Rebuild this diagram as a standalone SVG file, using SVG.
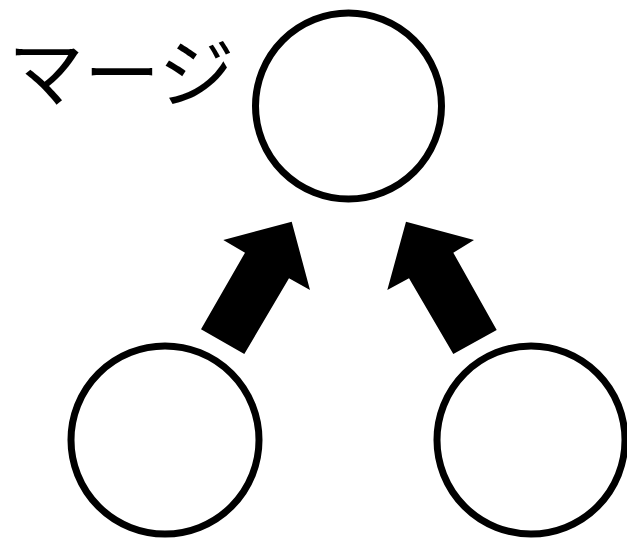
<svg xmlns="http://www.w3.org/2000/svg" width="627" height="538" viewBox="0 0 627 538">
  <style>
    .node { fill: #ffffff; stroke: #000000; stroke-width: 7; }
    .arrow { fill: #000000; stroke: none; }
    .label { font-family: "Noto Sans CJK JP", "Noto Sans", sans-serif; font-size: 76px; fill: #000000; }
  </style>
  <rect width="627" height="538" fill="#ffffff"/>
  <g id="connectors">
    <polygon class="arrow" points="291.7,221.7 310,290 289,278.3 244.3,354 201,329.3 245,252.7 223.3,240"/>
    <polygon class="arrow" points="406,221.7 474,240 453.3,252.7 496.7,330 453.3,354 409,278.3 387.3,290"/>
  </g>
  <g id="merge">
    <circle class="node" cx="348.5" cy="106" r="93"/>
    <text class="label" x="8" y="101">マージ</text>
  </g>
  <g id="left">
    <circle class="node" cx="165" cy="440" r="94"/>
  </g>
  <g id="right">
    <circle class="node" cx="531" cy="440" r="94"/>
  </g>
</svg>
